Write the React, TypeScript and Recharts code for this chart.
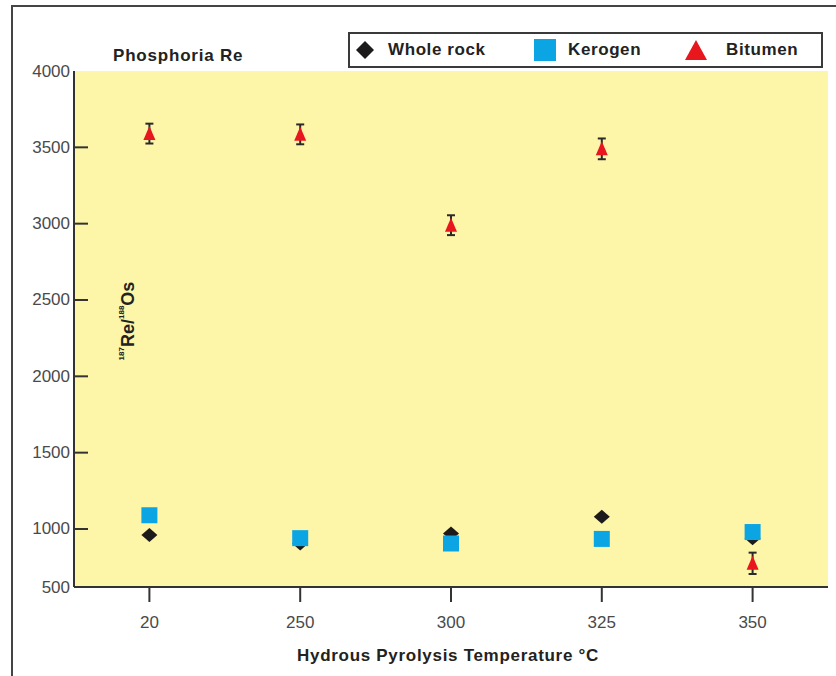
import React from 'react';
import { ComposedChart, Scatter, XAxis, YAxis, CartesianGrid, ErrorBar } from 'recharts';

// Phosphoria Re: 187Re/188Os against hydrous pyrolysis temperature

const temperatures = ['20', '250', '300', '325', '350'];
const wholeRock = [960, 905, 970, 1080, 940];
const kerogen = [1090, 940, 905, 935, 980];
const bitumen = [3590, 3585, 2990, 3490, 775];
const bitumenError = [65, 65, 65, 68, 70];

// the original axis is squeezed below 1000: its floor sits where ~620 would be, but it is labelled 500
const yFloor = 620;
const yFloorLabel = '500';
const yTop = 4000;
const yTicks = [yFloor, 1000, 1500, 2000, 2500, 3000, 3500, 4000];

const COLORS = {
  plot: '#fdf5a8',
  frame: '#333333',
  whole: '#1c1a1a',
  kerogen: '#0ba5e4',
  bitumen: '#e8161d',
  tick: '#4a4a4a',
  label: '#222222',
};

const FONT = '"Liberation Sans", Arial, Helvetica, sans-serif';

const data = temperatures.map((t, i) => ({
  temp: t,
  whole: wholeRock[i],
  kerogen: kerogen[i],
  bitumen: bitumen[i],
  bitumenErr: bitumenError[i],
}));

const Diamond = ({ cx, cy, fill, w = 8, h = 7 }: any) => (
  <polygon points={`${cx},${cy - h} ${cx + w},${cy} ${cx},${cy + h} ${cx - w},${cy}`} fill={fill} />
);

const Square = ({ cx, cy, fill, s = 8 }: any) => (
  <rect x={cx - s} y={cy - s} width={s * 2} height={s * 2} fill={fill} />
);

const Triangle = ({ cx, cy, fill, w = 6, h = 13 }: any) => (
  <polygon points={`${cx},${cy - h / 2 - 1} ${cx + w},${cy + h / 2} ${cx - w},${cy + h / 2}`} fill={fill} />
);

const YTick = ({ x, y, payload }: any) => {
  const v = payload.value;
  const axisX = x + 4;
  return (
    <g>
      {v !== yFloor && v !== yTop && (
        <line x1={axisX} x2={axisX + 14} y1={y} y2={y} stroke={COLORS.frame} strokeWidth={2} />
      )}
      <text x={x} y={y} textAnchor="end" dominantBaseline="central" fill={COLORS.tick} fontSize={17} fontFamily={FONT}>
        {v === yFloor ? yFloorLabel : v}
      </text>
    </g>
  );
};

const YLabel = ({ viewBox }: any) => {
  const cx = viewBox.x + viewBox.width + 54;
  const cy = viewBox.y + viewBox.height / 2 - 8;
  return (
    <text
      x={cx}
      y={cy}
      transform={`rotate(-90 ${cx} ${cy})`}
      textAnchor="middle"
      dominantBaseline="central"
      fontFamily={FONT}
      fontWeight="bold"
      fontSize={18}
      fill={COLORS.label}
    >
      <tspan fontSize={8} dy={-7}>187</tspan>
      <tspan dy={7}>Re/</tspan>
      <tspan fontSize={8} dy={-7}>188</tspan>
      <tspan dy={7}>Os</tspan>
    </text>
  );
};

const XLabel = ({ viewBox }: any) => (
  <text
    x={viewBox.x + viewBox.width / 2 - 3}
    y={viewBox.y + 68}
    textAnchor="middle"
    dominantBaseline="central"
    fontFamily={FONT}
    fontWeight="bold"
    fontSize={17}
    letterSpacing={0.7}
    fill={COLORS.label}
  >
    Hydrous Pyrolysis Temperature °C
  </text>
);

const legendItems = [
  { name: 'Whole rock', icon: 'diamond', left: 6, textGap: 32 },
  { name: 'Kerogen', icon: 'square', left: 184, textGap: 34 },
  { name: 'Bitumen', icon: 'triangle', left: 334, textGap: 42 },
];

function LegendIcon({ kind }: { kind: string }) {
  if (kind === 'diamond')
    return (
      <svg width={18} height={20}>
        <Diamond cx={9} cy={10} w={9} h={9} fill={COLORS.whole} />
      </svg>
    );
  if (kind === 'square')
    return (
      <svg width={22} height={22}>
        <rect x={0} y={0} width={22} height={22} fill={COLORS.kerogen} />
      </svg>
    );
  return (
    <svg width={24} height={22}>
      <polygon points="12,1 23,21 1,21" fill={COLORS.bitumen} />
    </svg>
  );
}

function ChartLegend() {
  return (
    <div
      style={{
        position: 'absolute',
        left: 348,
        top: 32,
        width: 475,
        height: 36,
        boxSizing: 'border-box',
        border: '2px solid #3a3a3a',
        background: '#fff',
      }}
    >
      {legendItems.map((it) => (
        <div key={it.name} style={{ position: 'absolute', left: it.left, top: 0, height: 32, display: 'flex', alignItems: 'center' }}>
          <LegendIcon kind={it.icon} />
          <span
            style={{
              position: 'absolute',
              left: it.textGap,
              whiteSpace: 'nowrap',
              fontWeight: 'bold',
              fontSize: 17,
              letterSpacing: 0.6,
              color: COLORS.label,
            }}
          >
            {it.name}
          </span>
        </div>
      ))}
    </div>
  );
}

export default function App() {
  return (
    <div
      style={{
        position: 'absolute',
        left: 0,
        top: 0,
        width: 836,
        height: 676,
        overflow: 'hidden',
        background: '#fff',
        fontFamily: FONT,
      }}
    >
      {/* figure frame */}
      <div
        style={{
          position: 'absolute',
          left: 11,
          top: 5,
          width: 900,
          height: 800,
          borderLeft: '2px solid #444',
          borderTop: '2px solid #444',
        }}
      />

      <ComposedChart
        width={836}
        height={676}
        data={data}
        margin={{ top: 71, right: 8, bottom: 29, left: 14 }}
        style={{ position: 'absolute', left: 0, top: 0 }}
      >
        <CartesianGrid horizontal={false} vertical={false} fill={COLORS.plot} />
        <XAxis
          dataKey="temp"
          type="category"
          scale="band"
          height={60}
          tickSize={15}
          tickMargin={14}
          axisLine={{ stroke: COLORS.frame, strokeWidth: 2 }}
          tickLine={{ stroke: COLORS.frame, strokeWidth: 2 }}
          tick={{ fill: COLORS.tick, fontSize: 17, fontFamily: FONT }}
          label={<XLabel />}
        />
        <XAxis
          xAxisId="top"
          orientation="top"
          dataKey="temp"
          type="category"
          scale="band"
          height={0}
          tick={false}
          tickLine={false}
          axisLine={{ stroke: COLORS.frame, strokeWidth: 2 }}
        />
        <YAxis
          type="number"
          domain={[yFloor, yTop]}
          ticks={yTicks}
          interval={0}
          width={60}
          tickSize={0}
          tickMargin={4}
          tickLine={false}
          axisLine={{ stroke: COLORS.frame, strokeWidth: 2 }}
          tick={<YTick />}
          label={<YLabel />}
        />
        <YAxis
          yAxisId="right"
          orientation="right"
          type="number"
          domain={[yFloor, yTop]}
          width={0}
          tick={false}
          tickLine={false}
          axisLine={{ stroke: COLORS.frame, strokeWidth: 2 }}
        />
        <Scatter
          name="Whole rock"
          dataKey="whole"
          fill={COLORS.whole}
          isAnimationActive={false}
          shape={(p: any) => <Diamond cx={p.cx} cy={p.cy} fill={COLORS.whole} />}
        />
        <Scatter
          name="Kerogen"
          dataKey="kerogen"
          fill={COLORS.kerogen}
          isAnimationActive={false}
          shape={(p: any) => <Square cx={p.cx} cy={p.cy} fill={COLORS.kerogen} />}
        />
        <Scatter
          name="Bitumen"
          dataKey="bitumen"
          fill={COLORS.bitumen}
          isAnimationActive={false}
          shape={(p: any) => <Triangle cx={p.cx} cy={p.cy} fill={COLORS.bitumen} />}
        >
          <ErrorBar dataKey="bitumenErr" direction="y" width={4} strokeWidth={2} stroke="#2a2a2a" />
        </Scatter>
      </ComposedChart>

      <div
        style={{
          position: 'absolute',
          left: 113,
          top: 46,
          fontWeight: 'bold',
          fontSize: 17,
          letterSpacing: 0.8,
          lineHeight: '20px',
          color: COLORS.label,
          whiteSpace: 'nowrap',
        }}
      >
        Phosphoria Re
      </div>

      <ChartLegend />
    </div>
  );
}
